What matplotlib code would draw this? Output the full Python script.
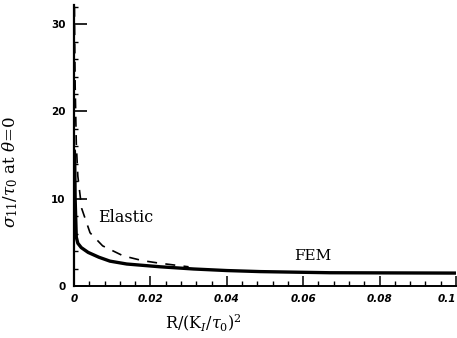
import matplotlib
matplotlib.use("Agg")
import matplotlib.pyplot as plt
from matplotlib.ticker import MultipleLocator

plt.rcParams['font.family'] = ['DejaVu Serif']
plt.rcParams['mathtext.fontset'] = 'dejavuserif'

# FEM curve (solid, thick)
fem_r = [0.0001, 0.0002, 0.0003, 0.0006, 0.001, 0.0019, 0.0037, 0.0065, 0.0094,
         0.0138, 0.0226, 0.0313, 0.040, 0.0488, 0.067, 0.1]
fem_s = [15.5, 14.0, 10.0, 5.6, 4.9, 4.4, 3.85, 3.3, 2.85,
         2.52, 2.2, 1.95, 1.77, 1.65, 1.52, 1.48]

# Elastic curve (dashed)
ela_r = [0.00012, 0.00015, 0.0003, 0.0006, 0.001, 0.002, 0.0042, 0.0075,
         0.0129, 0.018, 0.0226, 0.03]
ela_s = [32.0, 30.0, 23.0, 16.3, 12.6, 8.9, 6.1, 4.6, 3.45, 2.9, 2.6, 2.2]

xticks = [0, 0.02, 0.04, 0.06, 0.08, 0.1]
xticklabels = ['0', '0.02', '0.04', '0.06', '0.08', '0.1']
yticks = [0, 10, 20, 30]
yticklabels = ['0', '10', '20', '30']

fig = plt.figure(figsize=(4.57, 3.38), dpi=100)
ax = fig.add_axes([74/457, 52/338, 382/457, 281/338])

ax.plot(fem_r, fem_s, color='black', lw=2.4, solid_capstyle='round')
ax.plot(ela_r, ela_s, color='black', lw=1.2, dashes=(6, 5))

ax.set_xlim(0, 0.1)
ax.set_ylim(0, 32.2)

ax.spines['top'].set_visible(False)
ax.spines['right'].set_visible(False)
ax.spines['left'].set_linewidth(1.6)
ax.spines['bottom'].set_linewidth(1.4)

ax.set_xticks(xticks)
ax.set_xticklabels(xticklabels, fontsize=7.5, fontstyle='italic',
                   fontweight='bold', family='DejaVu Sans')
ax.get_xticklabels()[-1].set_horizontalalignment('right')
ax.set_yticks(yticks)
ax.set_yticklabels(yticklabels, fontsize=7.5, fontweight='bold',
                   family='DejaVu Sans')
ax.xaxis.set_minor_locator(MultipleLocator(0.004))
ax.yaxis.set_minor_locator(MultipleLocator(2))

ax.tick_params(axis='y', which='major', direction='in', length=9, width=1.2, pad=6)
ax.tick_params(axis='y', which='minor', direction='in', length=3, width=1.0)
ax.tick_params(axis='x', which='major', direction='in', length=7, width=1.1, pad=6)
ax.tick_params(axis='x', which='minor', direction='in', length=3.5, width=1.0)

ax.text(0.0062, 7.8, 'Elastic', fontsize=11.5, ha='left', va='center')
ax.text(0.0624, 3.4, 'FEM', fontsize=11, ha='center', va='center')

ax.set_xlabel(r'R/(K$_I$/$\tau_0$)$^2$', fontsize=11.5)
ax.xaxis.set_label_coords(0.34, -0.095)
ax.set_ylabel(r'$\sigma_{11}/\tau_0$ at $\theta$=0', fontsize=12)
ax.yaxis.set_label_coords(-0.141, 0.405)

fig.savefig('out.png', dpi=100)
